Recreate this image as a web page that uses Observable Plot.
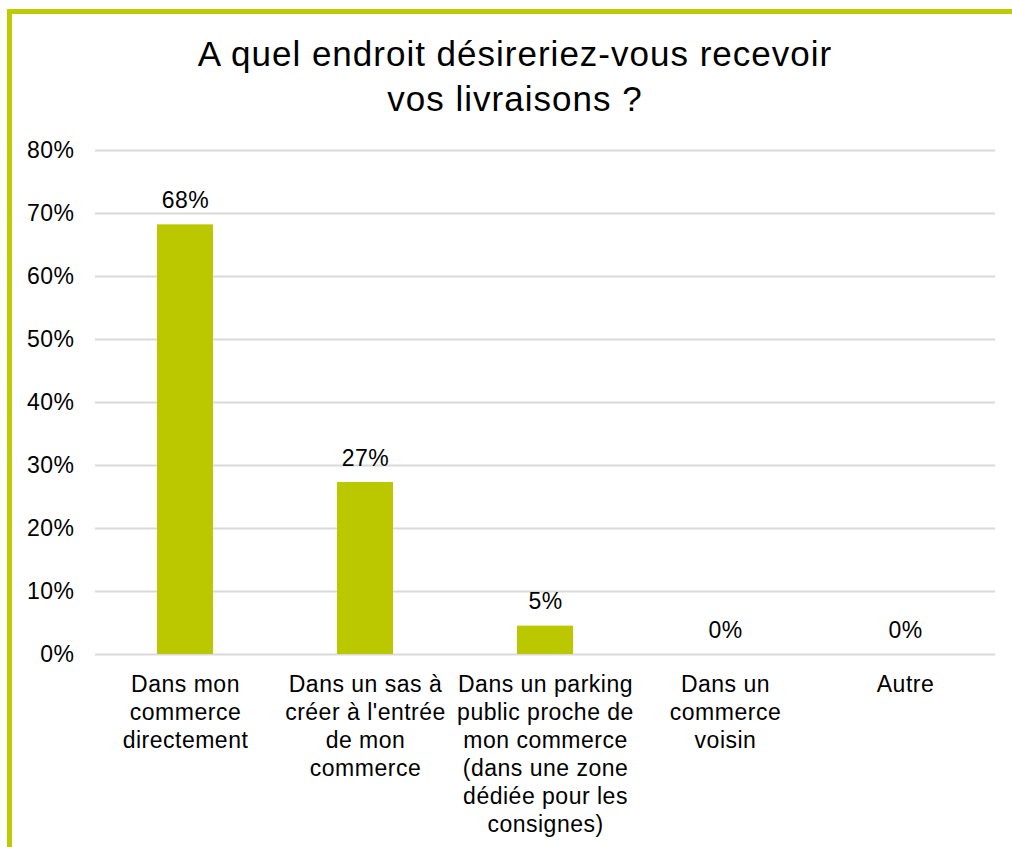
<!DOCTYPE html>
<html>
<head>
<meta charset="utf-8">
<script src="https://cdn.jsdelivr.net/npm/d3@7"></script>
<script src="https://cdn.jsdelivr.net/npm/@observablehq/plot@0.6"></script>
<style>
  html, body { margin: 0; padding: 0; background: #fff; }
  body { width: 1012px; height: 847px; position: relative; overflow: hidden; font-family: "Liberation Sans", Arial, sans-serif; }
  #frame { position: absolute; left: 7px; top: 9px; width: 1010px; height: 850px; border-left: 5px solid #BDCB00; border-top: 5px solid #BDCB00; box-sizing: border-box; }
  #title { position: absolute; left: 15px; width: 1000px; top: 31px; text-align: center; font-size: 35px; letter-spacing: 1px; line-height: 45px; color: #000; }
  #chart { position: absolute; left: 0; top: 130px; }
</style>
</head>
<body>
<div id="frame"></div>
<div id="title">A quel endroit désireriez-vous recevoir<br>vos livraisons ?</div>
<div id="chart"></div>
<script>
const categories = [
  "Dans mon\ncommerce\ndirectement",
  "Dans un sas à\ncréer à l'entrée\nde mon\ncommerce",
  "Dans un parking\npublic proche de\nmon commerce\n(dans une zone\ndédiée pour les\nconsignes)",
  "Dans un\ncommerce\nvoisin",
  "Autre"
];
const values = [0.682, 0.273, 0.045, 0, 0];
const labels = ["68%", "27%", "5%", "0%", "0%"];
const yTicks = [0, 0.1, 0.2, 0.3, 0.4, 0.5, 0.6, 0.7, 0.8];

const data = categories.map((c, i) => ({cat: c, value: values[i], label: labels[i]}));

const font = "Liberation Sans, Arial, sans-serif";
const chart = Plot.plot({
  width: 1012,
  height: 717,
  marginTop: 20,
  marginBottom: 193,
  marginLeft: 95,
  marginRight: 17,
  style: {fontFamily: font, fontSize: "23px", letterSpacing: "0.5px", color: "#000", background: "transparent"},
  x: {domain: categories, paddingInner: 0.69, paddingOuter: 0.345, axis: null},
  y: {domain: [0, 0.8], axis: null},
  marks: [
    Plot.ruleY(yTicks, {stroke: "#d9d9d9", strokeWidth: 2}),
    Plot.axisY({ticks: yTicks, tickFormat: d => Math.round(d * 100) + "%", tickSize: 0, tickPadding: 21, fontSize: 23, fill: "#000", label: null}),
    Plot.barY(data, {x: "cat", y: "value", fill: "#BBC800"}),
    Plot.text(data, {x: "cat", y: "value", text: "label", fontSize: 23, fill: "#000", lineAnchor: "bottom", dy: -17}),
    Plot.text(data, {x: "cat", text: "cat", frameAnchor: "bottom", lineAnchor: "top", dy: 18, fontSize: 23, lineHeight: 28 / 23, fill: "#000"})
  ]
});
document.getElementById("chart").appendChild(chart);
</script>
</body>
</html>
